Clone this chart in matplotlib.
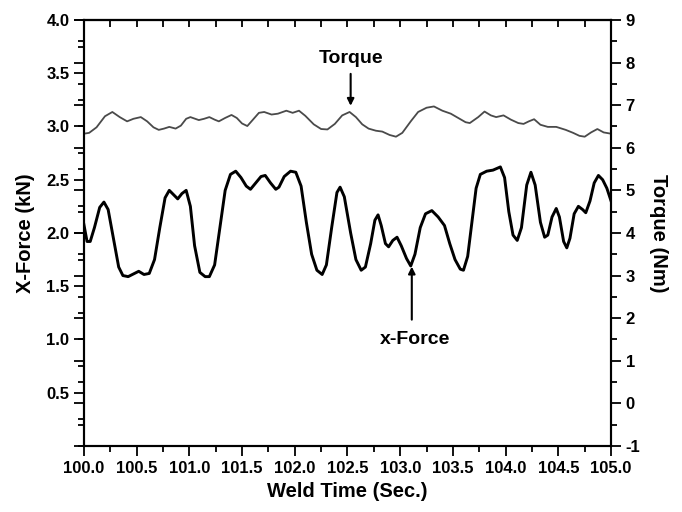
"""
Weld time vs x-force and torque, two y axes.
"""
import numpy as np, matplotlib
matplotlib.use('Agg')
import matplotlib.pyplot as plt
from matplotlib.ticker import MultipleLocator, FormatStrFormatter

plt.rcParams['font.family'] = ['Liberation Sans', 'DejaVu Sans']
plt.rcParams['font.weight'] = 'bold'
plt.rcParams['axes.unicode_minus'] = False

# x-force trace (s, kN)
force_t = [100.00, 100.03, 100.06, 100.10, 100.15, 100.19, 100.23, 100.28, 100.33, 100.37,
           100.42, 100.48, 100.52, 100.57, 100.62, 100.67, 100.72, 100.77, 100.81, 100.85,
           100.89, 100.93, 100.97, 101.01, 101.05, 101.10, 101.15, 101.19, 101.24, 101.29,
           101.34, 101.39, 101.44, 101.49, 101.54, 101.58, 101.63, 101.68, 101.72, 101.77,
           101.82, 101.85, 101.90, 101.96, 102.01, 102.06, 102.11, 102.16, 102.21, 102.26,
           102.30, 102.35, 102.40, 102.43, 102.47, 102.53, 102.58, 102.63, 102.67, 102.72,
           102.76, 102.79, 102.82, 102.86, 102.89, 102.93, 102.97, 103.01, 103.06, 103.10,
           103.14, 103.19, 103.24, 103.30, 103.36, 103.42, 103.47, 103.52, 103.57, 103.60,
           103.64, 103.68, 103.72, 103.76, 103.82, 103.88, 103.95, 103.99, 104.03, 104.07,
           104.11, 104.15, 104.20, 104.24, 104.28, 104.33, 104.37, 104.40, 104.44, 104.48,
           104.51, 104.55, 104.58, 104.61, 104.65, 104.69, 104.73, 104.76, 104.80, 104.84,
           104.88, 104.92, 104.96, 105.00]
force_kn = [2.08, 1.92, 1.92, 2.05, 2.24, 2.29, 2.22, 1.95, 1.68, 1.60,
            1.59, 1.62, 1.64, 1.61, 1.62, 1.75, 2.05, 2.33, 2.40, 2.36,
            2.32, 2.37, 2.40, 2.25, 1.88, 1.63, 1.59, 1.59, 1.70, 2.05,
            2.40, 2.55, 2.58, 2.52, 2.44, 2.41, 2.47, 2.53, 2.54, 2.47,
            2.41, 2.43, 2.53, 2.58, 2.57, 2.44, 2.10, 1.80, 1.65, 1.61,
            1.70, 2.05, 2.38, 2.43, 2.34, 2.00, 1.75, 1.65, 1.68, 1.90,
            2.12, 2.17, 2.07, 1.90, 1.87, 1.93, 1.96, 1.88, 1.76, 1.69,
            1.80, 2.05, 2.18, 2.21, 2.15, 2.07, 1.90, 1.75, 1.66, 1.65,
            1.78, 2.10, 2.42, 2.55, 2.58, 2.59, 2.62, 2.52, 2.20, 1.98,
            1.93, 2.05, 2.45, 2.57, 2.45, 2.10, 1.96, 1.98, 2.15, 2.23,
            2.15, 1.92, 1.86, 1.95, 2.18, 2.25, 2.22, 2.19, 2.30, 2.47,
            2.54, 2.50, 2.42, 2.30]

# torque trace (s, Nm)
torque_t = [100.00, 100.05, 100.12, 100.20, 100.27, 100.34, 100.41, 100.47, 100.54, 100.60,
            100.66, 100.71, 100.76, 100.81, 100.87, 100.92, 100.97, 101.01, 101.09, 101.14,
            101.19, 101.24, 101.28, 101.34, 101.40, 101.45, 101.50, 101.55, 101.60, 101.66,
            101.71, 101.78, 101.84, 101.92, 101.98, 102.04, 102.10, 102.18, 102.25, 102.31,
            102.38, 102.45, 102.52, 102.58, 102.64, 102.70, 102.77, 102.83, 102.90, 102.96,
            103.02, 103.10, 103.17, 103.25, 103.32, 103.40, 103.48, 103.55, 103.62, 103.66,
            103.74, 103.80, 103.86, 103.91, 103.98, 104.05, 104.12, 104.17, 104.22, 104.27,
            104.33, 104.40, 104.48, 104.57, 104.64, 104.70, 104.75, 104.81, 104.87, 104.93,
            105.00]
torque_nm = [6.33, 6.35, 6.48, 6.74, 6.84, 6.72, 6.62, 6.68, 6.72, 6.62,
             6.48, 6.42, 6.45, 6.49, 6.45, 6.52, 6.68, 6.72, 6.65, 6.68,
             6.72, 6.66, 6.62, 6.70, 6.77, 6.70, 6.57, 6.51, 6.65, 6.82,
             6.84, 6.78, 6.80, 6.87, 6.82, 6.87, 6.75, 6.55, 6.44, 6.43,
             6.56, 6.76, 6.84, 6.72, 6.55, 6.45, 6.40, 6.38, 6.30, 6.26,
             6.35, 6.62, 6.84, 6.94, 6.97, 6.87, 6.80, 6.70, 6.60, 6.58,
             6.72, 6.85, 6.76, 6.72, 6.76, 6.66, 6.58, 6.56, 6.62, 6.67,
             6.54, 6.49, 6.49, 6.42, 6.35, 6.28, 6.26, 6.36, 6.44, 6.36,
             6.33]

fig = plt.figure(figsize=(6.82, 5.12), dpi=100)
ax = fig.add_axes([0.123, 0.129, 0.773, 0.832])
ax2 = ax.twinx()

ax.plot(force_t, force_kn, color='black', lw=2.1)
ax2.plot(torque_t, torque_nm, color='#4a4a4a', lw=1.3)

ax.set_xlim(100, 105)
ax.set_ylim(0, 4.0)
ax2.set_ylim(-1, 9)

ax.set_xticks(np.arange(100, 105.01, 0.5))
ax.xaxis.set_minor_locator(MultipleLocator(0.25))
ax.xaxis.set_major_formatter(FormatStrFormatter('%.1f'))
ax.set_yticks(np.arange(0.5, 4.01, 0.5))
ax.yaxis.set_minor_locator(MultipleLocator(0.25))
ax.yaxis.set_major_formatter(FormatStrFormatter('%.1f'))
ax2.set_yticks(np.arange(-1, 10, 1))
ax2.yaxis.set_minor_locator(MultipleLocator(0.5))

ax.tick_params(axis='both', which='major', direction='out', length=7, width=1.3, labelsize=12)
ax.tick_params(axis='both', which='minor', direction='out', length=4, width=1.3)
ax2.tick_params(axis='y', which='major', direction='out', length=7, width=1.3, labelsize=12,
                left=True, right=True)
ax2.tick_params(axis='y', which='minor', direction='out', length=4, width=1.3,
                left=True, right=True)

top = ax.secondary_xaxis('top')
top.set_xticks(np.arange(100, 105.01, 0.5))
top.xaxis.set_minor_locator(MultipleLocator(0.25))
top.tick_params(which='both', direction='in', length=5, width=1.3, labeltop=False)

for a in (ax, ax2):
    for s in a.spines.values():
        s.set_linewidth(1.5)
top.spines['top'].set_linewidth(1.5)

ax.set_xlabel('Weld Time (Sec.)', fontsize=14.5, fontweight='bold', labelpad=5)
ax.set_ylabel('X-Force (kN)', fontsize=14.5, fontweight='bold', labelpad=8)
ax2.set_ylabel('Torque (Nm)', fontsize=14.5, fontweight='bold', rotation=270, labelpad=20)

# annotations
ax2.text(102.53, 8.1, 'Torque', ha='center', va='center', fontsize=14, fontweight='bold')
ax2.annotate('', xy=(102.53, 6.92), xytext=(102.53, 7.8),
             arrowprops=dict(arrowstyle='-|>', color='black', lw=1.5, mutation_scale=10))
ax.text(103.14, 1.0, 'x-Force', ha='center', va='center', fontsize=14, fontweight='bold')
ax.annotate('', xy=(103.11, 1.71), xytext=(103.11, 1.16),
            arrowprops=dict(arrowstyle='-|>', color='black', lw=1.5, mutation_scale=10))

plt.savefig('out.png', dpi=100)
